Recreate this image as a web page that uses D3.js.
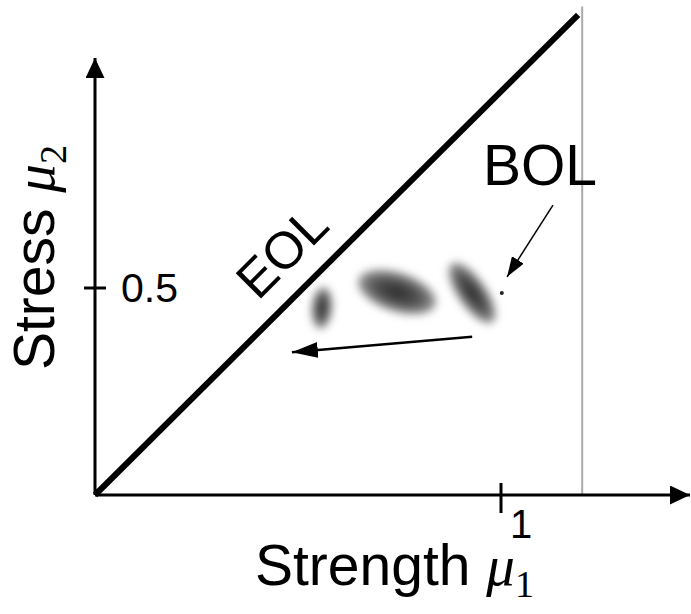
<!DOCTYPE html>
<html>
<head>
<meta charset="utf-8">
<script src="https://cdn.jsdelivr.net/npm/d3@7"></script>
<style>
  body { margin: 0; background: #fff; }
  svg text { font-family: "Liberation Sans", Arial, sans-serif; fill: #000; }
</style>
</head>
<body>
<div class="chart"></div>
<script>
// values in (strength mu1, stress mu2) units
const xTicks = [1];
const yTicks = [0.5];
const eolLine = [[0, 0], [1.19, 1.16]];
const limitX = 1.2;           // grey vertical limit
const limitTop = 1.18;
// blurred ellipses: centre x, centre y, half-width, half-height (data units), tilt deg
const clouds = [
  { x: 0.559, y: 0.452, rx: 0.025, ry: 0.05, tilt: 5 },
  { x: 0.744, y: 0.490, rx: 0.1, ry: 0.047, tilt: 18 },
  { x: 0.929, y: 0.488, rx: 0.088, ry: 0.034, tilt: 55 }
];
const bolPoint = [1.002, 0.488];
const driftArrow = [[0.929, 0.382], [0.485, 0.345]];
const bolArrow = [[1.128, 0.700], [1.015, 0.527]];

let width = 691, height = 614;
let svg = d3.select("div.chart").append("svg")
  .attr("width", width)
  .attr("height", height);

let x = d3.scaleLinear().domain([0, 1]).range([95, 501]);
let y = d3.scaleLinear().domain([0, 0.5]).range([495, 288]);

let defs = svg.append("defs");
defs.append("filter").attr("id", "blur")
  .attr("x", "-50%").attr("y", "-50%").attr("width", "200%").attr("height", "200%")
  .append("feGaussianBlur").attr("stdDeviation", 4);
let grad = defs.append("radialGradient").attr("id", "cloud");
grad.append("stop").attr("offset", "0%").attr("stop-color", "#2a2a2a");
grad.append("stop").attr("offset", "60%").attr("stop-color", "#555");
grad.append("stop").attr("offset", "100%").attr("stop-color", "#9a9a9a");

function arrowHead(id, w, l) {
  defs.append("marker").attr("id", id)
    .attr("viewBox", `0 ${-w/2} ${l} ${w}`)
    .attr("refX", l).attr("refY", 0)
    .attr("markerWidth", l).attr("markerHeight", w)
    .attr("markerUnits", "userSpaceOnUse")
    .attr("orient", "auto")
    .append("path").attr("d", `M0,${-w/2}L${l},0L0,${w/2}Z`).attr("fill", "#000");
}
arrowHead("axisHead", 19, 20);
arrowHead("bigHead", 16, 26);
arrowHead("smallHead", 14, 20);

// grey limit line
svg.append("line")
  .attr("x1", x(limitX)).attr("x2", x(limitX))
  .attr("y1", y(0)).attr("y2", y(limitTop))
  .attr("stroke", "#aaa").attr("stroke-width", 2);

// axes
svg.append("line")
  .attr("x1", x(0)).attr("y1", y(0)).attr("x2", 690).attr("y2", y(0))
  .attr("stroke", "#000").attr("stroke-width", 3).attr("marker-end", "url(#axisHead)");
svg.append("line")
  .attr("x1", x(0)).attr("y1", y(0)).attr("x2", x(0)).attr("y2", 58)
  .attr("stroke", "#000").attr("stroke-width", 3).attr("marker-end", "url(#axisHead)");

// ticks
svg.selectAll("line.xtick").data(xTicks).enter().append("line")
  .attr("class", "xtick")
  .attr("x1", d => x(d)).attr("x2", d => x(d))
  .attr("y1", y(0) - 12).attr("y2", y(0) + 18)
  .attr("stroke", "#000").attr("stroke-width", 3);
svg.selectAll("text.xtick").data(xTicks).enter().append("text")
  .attr("class", "xtick")
  .attr("x", d => x(d) + 20).attr("y", y(0) + 43)
  .attr("text-anchor", "middle").attr("font-size", 40)
  .text(d => d);
svg.selectAll("line.ytick").data(yTicks).enter().append("line")
  .attr("class", "ytick")
  .attr("x1", x(0) - 11).attr("x2", x(0) + 11)
  .attr("y1", d => y(d)).attr("y2", d => y(d))
  .attr("stroke", "#000").attr("stroke-width", 3);
svg.selectAll("text.ytick").data(yTicks).enter().append("text")
  .attr("class", "ytick")
  .attr("x", x(0) + 26).attr("y", d => y(d) + 14)
  .attr("font-size", 41)
  .text(d => d);

// EOL diagonal
svg.append("line")
  .attr("x1", x(eolLine[0][0])).attr("y1", y(eolLine[0][1]))
  .attr("x2", x(eolLine[1][0])).attr("y2", y(eolLine[1][1]))
  .attr("stroke", "#000").attr("stroke-width", 6);

// blurred distributions
svg.selectAll("ellipse.cloud").data(clouds).enter().append("ellipse")
  .attr("class", "cloud")
  .attr("cx", 0).attr("cy", 0)
  .attr("rx", d => x(d.rx) - x(0))
  .attr("ry", d => y(0) - y(d.ry))
  .attr("transform", d => `translate(${x(d.x)},${y(d.y)}) rotate(${d.tilt})`)
  .attr("fill", "url(#cloud)")
  .attr("filter", "url(#blur)");

svg.append("circle")
  .attr("cx", x(bolPoint[0])).attr("cy", y(bolPoint[1])).attr("r", 2)
  .attr("fill", "#222");

// arrows
svg.append("line")
  .attr("x1", x(driftArrow[0][0])).attr("y1", y(driftArrow[0][1]))
  .attr("x2", x(driftArrow[1][0])).attr("y2", y(driftArrow[1][1]))
  .attr("stroke", "#000").attr("stroke-width", 2.5).attr("marker-end", "url(#bigHead)");
svg.append("line")
  .attr("x1", x(bolArrow[0][0])).attr("y1", y(bolArrow[0][1]))
  .attr("x2", x(bolArrow[1][0])).attr("y2", y(bolArrow[1][1]))
  .attr("stroke", "#000").attr("stroke-width", 1.5).attr("marker-end", "url(#smallHead)");

// labels
svg.append("text").attr("x", 483).attr("y", 185).attr("font-size", 57).text("BOL");
svg.append("text")
  .attr("transform", "translate(282,252) rotate(-45)")
  .attr("text-anchor", "middle").attr("dominant-baseline", "central")
  .attr("font-size", 52).text("EOL");

let xl = svg.append("text").attr("x", 255).attr("y", 585).attr("font-size", 57);
xl.append("tspan").text("Strength ");
xl.append("tspan").attr("font-family", "Liberation Serif, serif").attr("font-style", "italic").text("\u03bc");
xl.append("tspan").attr("font-family", "Liberation Serif, serif").attr("font-size", 38).attr("dy", 12).text("1");

let yl = svg.append("text")
  .attr("transform", "translate(54,370) rotate(-90)")
  .attr("font-size", 57);
yl.append("tspan").text("Stress ");
yl.append("tspan").attr("font-family", "Liberation Serif, serif").attr("font-style", "italic").text("\u03bc");
yl.append("tspan").attr("font-family", "Liberation Serif, serif").attr("font-size", 38).attr("dy", 12).text("2");
</script>
</body>
</html>
